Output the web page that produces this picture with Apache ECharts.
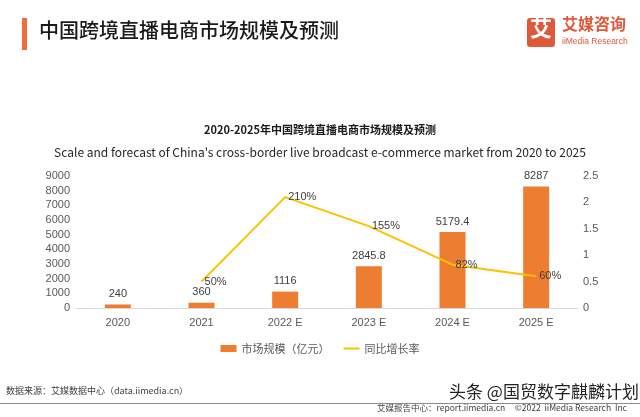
<!DOCTYPE html>
<html><head><meta charset="utf-8">
<script src="https://cdn.jsdelivr.net/npm/echarts@6/dist/echarts.min.js"></script>
<style>html,body{margin:0;padding:0;background:#fff}#c{width:640px;height:417px}</style>
</head><body><div id="c"></div>
<script>
const categories = ['2020', '2021', '2022 E', '2023 E', '2024 E', '2025 E'];
const marketSize = [240, 360, 1116, 2845.8, 5179.4, 8287];
const growthRate = ['-', 0.5, 2.1, 1.55, 0.82, 0.6];
const growthLabels = ['', '50%', '210%', '155%', '82%', '60%'];
const seriesNames = ['市场规模（亿元）', '同比增长率'];

const cjk = '"Noto Sans CJK SC", "Noto Sans", sans-serif';
const num = '"Liberation Sans", Arial, sans-serif';
const chart = echarts.init(document.getElementById('c'), null, {renderer: 'canvas'});
chart.setOption({
  animation: false,
  backgroundColor: '#fff',
  title: [
    {text: '2020-2025年中国跨境直播电商市场规模及预测', left: 'center', top: 119,
     textStyle: {fontFamily: cjk, fontSize: 11, fontWeight: 'bold', color: '#1a1a1a'}},
    {text: "Scale and forecast of China's cross-border live broadcast e-commerce market from 2020 to 2025", left: 'center', top: 141,
     textStyle: {fontFamily: cjk, fontSize: 12, fontWeight: 'normal', color: '#262626'}}
  ],
  graphic: [
    {type: 'rect', shape: {x: 22, y: 18, width: 5, height: 32}, style: {fill: '#F26B3A'}},
    {type: 'text', left: 39, top: 20, style: {text: '中国跨境直播电商市场规模及预测', font: '500 20px "Noto Sans CJK SC"', fill: '#1a1a1a'}},
    {type: 'rect', shape: {x: 527, y: 18, width: 28, height: 29, r: 3}, style: {fill: '#E0583A'}},
    {type: 'text', left: 530, top: 17, style: {text: '艾', font: 'bold 22px "Noto Sans CJK SC"', fill: '#fff'}},
    {type: 'text', left: 562, top: 16, style: {text: '艾媒咨询', font: 'bold 16px "Noto Sans CJK SC"', fill: '#E0583A'}},
    {type: 'text', left: 562, top: 37, style: {text: 'iiMedia Research', font: '8.5px "Liberation Sans"', fill: '#E0583A'}},
    {type: 'text', left: 6, top: 386, style: {text: '数据来源：艾媒数据中心（data.iimedia.cn）', font: '9px "Noto Sans CJK SC"', fill: '#404040'}},
    {type: 'line', shape: {x1: 0, y1: 403.5, x2: 640, y2: 403.5}, style: {stroke: '#8c8c8c', lineWidth: 1}},
    {type: 'text', left: 449, top: 383, style: {text: '头条 @国贸数字麒麟计划', font: '17px "Noto Sans CJK SC"', fill: '#222'}},
    {type: 'text', left: 377, top: 404, style: {text: '艾媒报告中心：report.iimedia.cn     ©2022  iiMedia Research  Inc', font: '8.5px "Noto Sans CJK SC"', fill: '#404040'}}
  ],
  legend: {
    top: 338, left: 'center', itemGap: 14, itemWidth: 16, itemHeight: 7,
    textStyle: {fontFamily: cjk, fontSize: 11, color: '#595959'},
    data: [{name: seriesNames[0], icon: 'rect'},
           {name: seriesNames[1], icon: 'path://M0,0 L16,0 L16,2 L0,2 Z', itemStyle: {color: '#FFC000'}}]
  },
  grid: {left: 76, right: 62, top: 176, bottom: 109},
  xAxis: {
    type: 'category', data: categories,
    axisLine: {lineStyle: {color: '#d9d9d9'}}, axisTick: {show: false},
    axisLabel: {fontFamily: num, fontSize: 11, color: '#595959', margin: 9}
  },
  yAxis: [
    {type: 'value', min: 0, max: 9000, interval: 1000, splitLine: {show: false},
     axisLine: {show: false}, axisTick: {show: false},
     axisLabel: {fontFamily: num, fontSize: 11, color: '#595959', margin: 6, formatter: v => String(v)}},
    {type: 'value', min: 0, max: 2.5, interval: 0.5, splitLine: {show: false},
     axisLine: {show: false}, axisTick: {show: false},
     axisLabel: {fontFamily: num, fontSize: 11, color: '#595959', margin: 5, formatter: v => String(v)}}
  ],
  series: [
    {name: seriesNames[0], type: 'bar', data: marketSize, barWidth: 26,
     itemStyle: {color: '#ED7D31'},
     label: {show: true, position: 'top', distance: 5, fontFamily: num, fontSize: 11, color: '#404040'}},
    {name: seriesNames[1], type: 'line', yAxisIndex: 1, data: growthRate,
     showSymbol: true, symbol: 'circle', symbolSize: 0.1, lineStyle: {color: '#FFC000', width: 2}, itemStyle: {color: '#FFC000'},
     label: {show: true, position: 'right', distance: 3, fontFamily: num, fontSize: 11, color: '#404040',
       formatter: p => growthLabels[p.dataIndex]}}
  ]
});
</script></body></html>
